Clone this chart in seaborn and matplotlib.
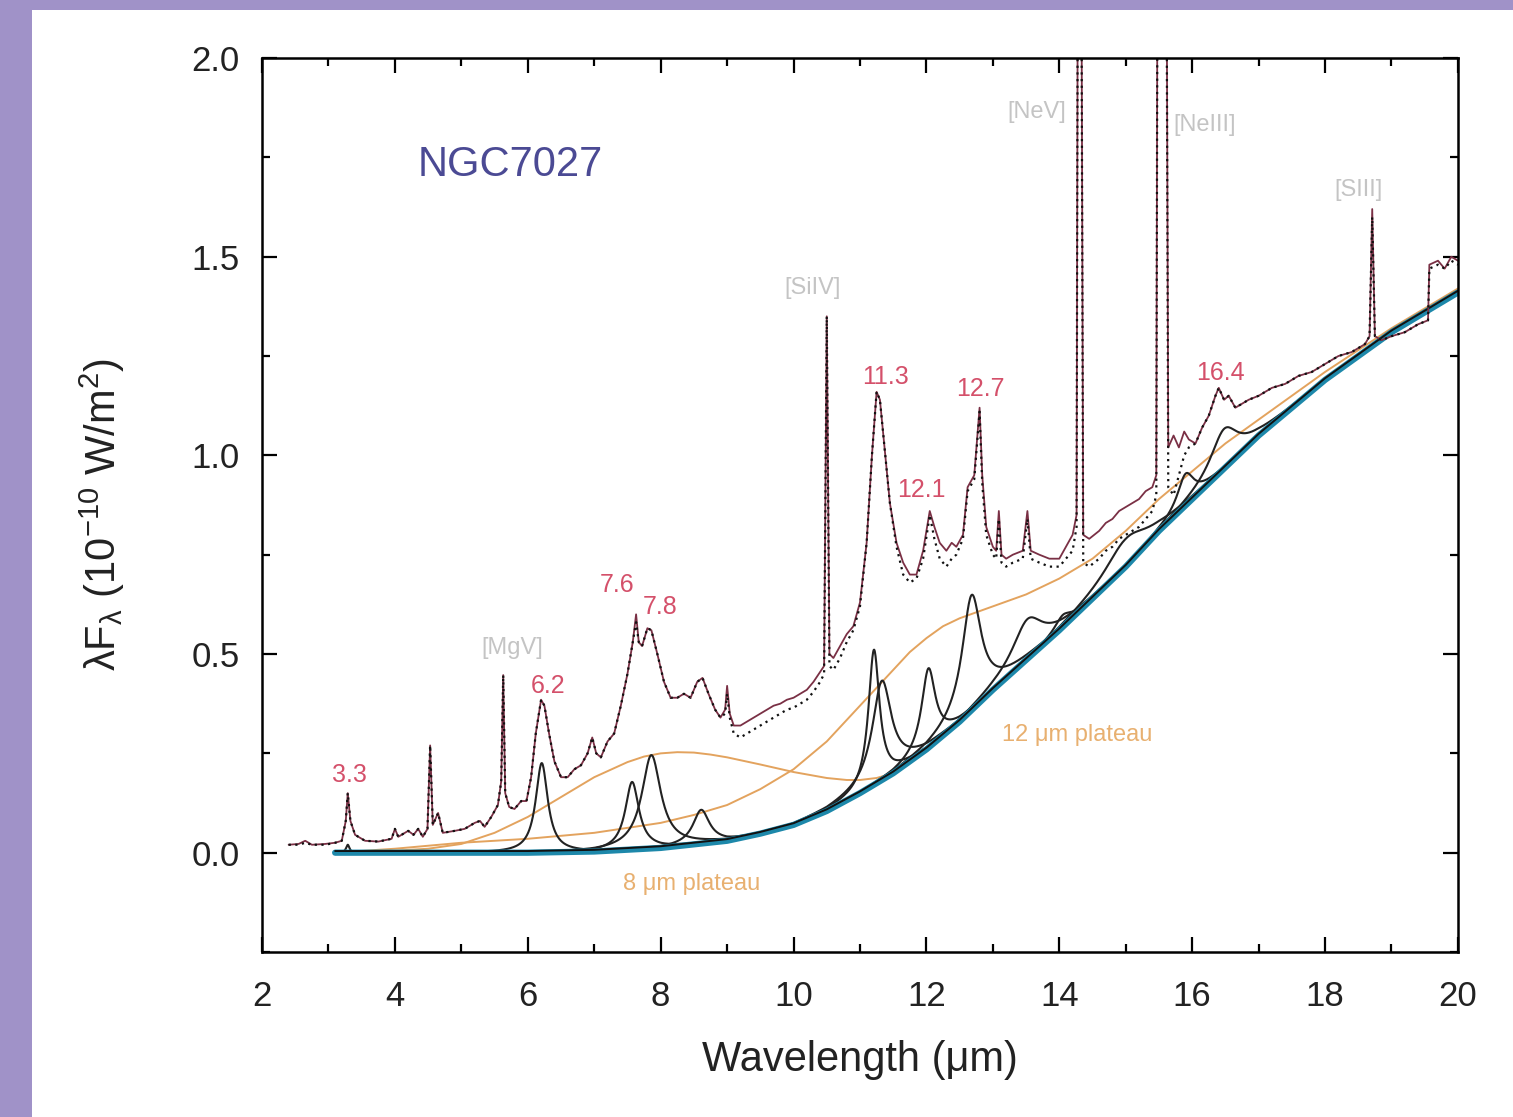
import numpy as np
import matplotlib
matplotlib.use("Agg")
import matplotlib.pyplot as plt
import matplotlib.transforms as mtransforms
from matplotlib.ticker import MultipleLocator
from matplotlib.patches import Rectangle
import seaborn as sns

wave = [2.40, 2.55, 2.65, 2.75, 2.95, 3.10, 3.20, 3.26, 3.29, 3.33, 3.40, 3.55, 3.75, 3.95,
        4.00, 4.05, 4.20, 4.28, 4.35, 4.42, 4.49, 4.53, 4.57, 4.65, 4.72, 4.90, 5.05, 5.20,
        5.28, 5.35, 5.45, 5.55, 5.60, 5.63, 5.66, 5.72, 5.80, 5.90, 5.98, 6.05, 6.12, 6.20,
        6.25, 6.32, 6.40, 6.50, 6.60, 6.70, 6.80, 6.90, 6.97, 7.03, 7.10, 7.20, 7.30, 7.40,
        7.50, 7.58, 7.63, 7.67, 7.72, 7.80, 7.86, 7.95, 8.05, 8.15, 8.25, 8.35, 8.45, 8.55,
        8.63, 8.72, 8.82, 8.90, 8.97, 9.00, 9.04, 9.10, 9.20, 9.30, 9.40, 9.50, 9.60, 9.70,
        9.80, 9.90, 10.00, 10.10, 10.20, 10.30, 10.40, 10.46, 10.50, 10.54, 10.60, 10.70,
        10.80, 10.90, 11.00, 11.10, 11.18, 11.25, 11.30, 11.38, 11.45, 11.55, 11.65, 11.75,
        11.85, 11.95, 12.05, 12.12, 12.20, 12.30, 12.38, 12.45, 12.55, 12.62, 12.72, 12.80,
        12.84, 12.90, 13.00, 13.05, 13.09, 13.13, 13.20, 13.30, 13.45, 13.52, 13.57, 13.70,
        13.85, 14.00, 14.10, 14.20, 14.26, 14.30, 14.36, 14.45, 14.60, 14.70, 14.80, 14.90,
        15.00, 15.10, 15.20, 15.30, 15.40, 15.46, 15.50, 15.58, 15.64, 15.72, 15.80, 15.88,
        15.95, 16.05, 16.15, 16.25, 16.35, 16.40, 16.48, 16.55, 16.65, 16.75, 16.85, 17.00,
        17.20, 17.40, 17.60, 17.80, 18.00, 18.20, 18.40, 18.60, 18.67, 18.71, 18.75, 18.85,
        19.00, 19.20, 19.40, 19.55, 19.57, 19.70, 19.80, 19.90, 20.00]
flux_obs = [0.020, 0.022, 0.030, 0.020, 0.022, 0.025, 0.030, 0.080, 0.150, 0.080, 0.045, 0.030, 0.028, 0.035,
            0.060, 0.040, 0.055, 0.045, 0.060, 0.040, 0.060, 0.270, 0.070, 0.100, 0.050, 0.055, 0.060, 0.075,
            0.080, 0.065, 0.090, 0.120, 0.180, 0.447, 0.150, 0.115, 0.110, 0.130, 0.130, 0.190, 0.300, 0.385,
            0.370, 0.300, 0.230, 0.190, 0.190, 0.210, 0.220, 0.250, 0.290, 0.250, 0.240, 0.280, 0.300, 0.370,
            0.450, 0.530, 0.600, 0.530, 0.520, 0.565, 0.560, 0.500, 0.430, 0.390, 0.390, 0.400, 0.390, 0.430,
            0.440, 0.400, 0.360, 0.340, 0.360, 0.420, 0.350, 0.320, 0.320, 0.330, 0.340, 0.350, 0.360, 0.370,
            0.375, 0.385, 0.390, 0.400, 0.410, 0.430, 0.455, 0.470, 1.350, 0.500, 0.490, 0.520,
            0.550, 0.570, 0.630, 0.780, 1.000, 1.160, 1.140, 1.000, 0.880, 0.780, 0.730, 0.700,
            0.700, 0.760, 0.860, 0.820, 0.780, 0.760, 0.780, 0.770, 0.800, 0.920, 0.950, 1.120,
            0.950, 0.820, 0.770, 0.760, 0.860, 0.750, 0.740, 0.750, 0.760, 0.860, 0.760, 0.750,
            0.740, 0.740, 0.770, 0.800, 0.850, 4.000, 0.800, 0.790, 0.810, 0.830, 0.840, 0.860,
            0.870, 0.880, 0.890, 0.910, 0.920, 0.950, 4.000, 4.000, 1.020, 1.050, 1.020, 1.060,
            1.040, 1.030, 1.070, 1.100, 1.150, 1.170, 1.140, 1.150, 1.120, 1.130, 1.140, 1.150,
            1.170, 1.180, 1.200, 1.210, 1.230, 1.250, 1.260, 1.280, 1.300, 1.620, 1.300, 1.290,
            1.300, 1.310, 1.330, 1.340, 1.480, 1.490, 1.470, 1.500, 1.490]
flux_fit = [0.020, 0.020, 0.025, 0.020, 0.020, 0.025, 0.030, 0.080, 0.150, 0.080, 0.045, 0.030, 0.028, 0.035,
            0.060, 0.040, 0.055, 0.045, 0.060, 0.040, 0.060, 0.270, 0.070, 0.100, 0.050, 0.055, 0.060, 0.075,
            0.080, 0.065, 0.090, 0.120, 0.180, 0.447, 0.150, 0.115, 0.110, 0.130, 0.130, 0.190, 0.300, 0.385,
            0.370, 0.300, 0.230, 0.190, 0.190, 0.210, 0.220, 0.250, 0.290, 0.250, 0.240, 0.280, 0.300, 0.370,
            0.450, 0.530, 0.580, 0.530, 0.520, 0.565, 0.560, 0.500, 0.430, 0.390, 0.390, 0.400, 0.390, 0.430,
            0.440, 0.400, 0.360, 0.340, 0.350, 0.400, 0.340, 0.300, 0.290, 0.300, 0.310, 0.320, 0.330, 0.340,
            0.350, 0.360, 0.365, 0.375, 0.385, 0.405, 0.430, 0.450, 1.350, 0.470, 0.460, 0.490,
            0.530, 0.560, 0.620, 0.780, 1.000, 1.160, 1.140, 1.000, 0.880, 0.770, 0.700, 0.680,
            0.690, 0.740, 0.850, 0.790, 0.740, 0.720, 0.740, 0.750, 0.790, 0.910, 0.940, 1.110,
            0.930, 0.800, 0.750, 0.740, 0.840, 0.730, 0.720, 0.730, 0.740, 0.840, 0.740, 0.730,
            0.720, 0.720, 0.740, 0.760, 0.820, 4.000, 0.730, 0.720, 0.740, 0.760, 0.770, 0.790,
            0.800, 0.810, 0.820, 0.840, 0.860, 0.900, 4.000, 4.000, 0.920, 0.900, 0.950, 1.000,
            1.020, 1.030, 1.070, 1.100, 1.150, 1.170, 1.140, 1.150, 1.120, 1.130, 1.140, 1.150,
            1.170, 1.180, 1.200, 1.210, 1.230, 1.250, 1.260, 1.280, 1.300, 1.600, 1.300, 1.290,
            1.300, 1.310, 1.330, 1.340, 1.470, 1.480, 1.470, 1.490, 1.480]

# underlying continuum
cont_x = [3.1, 4.0, 5.0, 6.0, 7.0, 8.0, 9.0, 9.5, 10.0, 10.5, 11.0, 11.5, 12.0, 12.5, 13.0, 13.5,
          14.0, 14.5, 15.0, 15.5, 16.0, 16.5, 17.0, 17.5, 18.0, 18.5, 19.0, 19.5, 20.0]
cont_y = [0.0, 0.0, 0.0, 0.0, 0.003, 0.012, 0.03, 0.048, 0.07, 0.105, 0.15, 0.2, 0.26, 0.33, 0.41,
          0.485, 0.56, 0.64, 0.72, 0.81, 0.89, 0.97, 1.05, 1.12, 1.19, 1.25, 1.31, 1.36, 1.41]

# plateau components (continuum included)
p8_x = [3.1, 4.0, 4.5, 5.0, 5.5, 6.0, 6.5, 7.0, 7.5, 7.75, 8.0, 8.25, 8.5, 8.75, 9.0, 9.5, 10.0,
        10.5, 10.8, 11.0, 11.25, 11.5, 11.75, 12.0, 12.5]
p8_y = [0.0, 0.005, 0.01, 0.022, 0.05, 0.09, 0.14, 0.19, 0.228, 0.242, 0.25, 0.253, 0.252, 0.247,
        0.24, 0.222, 0.203, 0.188, 0.183, 0.183, 0.188, 0.2, 0.225, 0.262, 0.33]
p12_x = [3.1, 4.0, 5.0, 6.0, 7.0, 8.0, 8.5, 9.0, 9.5, 10.0, 10.5, 11.0, 11.5, 11.75, 12.0, 12.25,
         12.5, 13.0, 13.5, 14.0, 14.5, 15.0, 15.5, 16.0, 16.5, 17.0, 18.0, 19.0, 20.0]
p12_y = [0.0, 0.01, 0.025, 0.035, 0.05, 0.075, 0.095, 0.12, 0.16, 0.21, 0.28, 0.37, 0.46, 0.505,
         0.54, 0.57, 0.59, 0.62, 0.65, 0.69, 0.74, 0.81, 0.89, 0.96, 1.03, 1.09, 1.21, 1.32, 1.42]

# PAH band components: centre (um), height above continuum, FWHM (um)
band_center = [3.29, 6.21, 7.57, 7.86, 8.61, 11.21, 11.33, 12.03, 12.68, 13.52, 14.05, 15.00, 15.90, 16.48]
band_height = [0.02, 0.225, 0.17, 0.235, 0.085, 0.34, 0.25, 0.20, 0.29, 0.10, 0.03, 0.07, 0.08, 0.10]
band_fwhm = [0.06, 0.22, 0.25, 0.35, 0.30, 0.20, 0.35, 0.25, 0.35, 0.55, 0.30, 0.75, 0.30, 0.50]

pah_labels = ["3.3", "6.2", "7.6", "7.8", "11.3", "12.1", "12.7", "16.4"]
pah_label_x = [3.32, 6.30, 7.34, 7.99, 11.38, 11.93, 12.81, 16.42]
pah_label_y = [0.196, 0.42, 0.673, 0.618, 1.198, 0.912, 1.168, 1.208]

ion_labels = ["[MgV]", "[SiIV]", "[NeV]", "[NeIII]", "[SIII]"]
ion_label_x = [5.76, 10.28, 13.66, 16.19, 18.50]
ion_label_y = [0.515, 1.422, 1.864, 1.832, 1.668]

sns.set_theme(style="ticks")
plt.rcParams["font.family"] = ["Liberation Sans", "DejaVu Sans"]
plt.rcParams["mathtext.default"] = "regular"

fig = plt.figure(figsize=(15.13, 11.17), dpi=100, facecolor="#a092c8")
fig.patches.append(Rectangle((32 / 1513, 0), 1, 1 - 10 / 1117, transform=fig.transFigure,
                             facecolor="white", edgecolor="none", zorder=-10))
ax = fig.add_axes([0.1732, 0.1477, 0.7904, 0.8003])
ax.set_facecolor("white")

orange = "#e3a35e"
sns.lineplot(x=p8_x, y=p8_y, ax=ax, color=orange, lw=1.4, sort=False, estimator=None)
sns.lineplot(x=p12_x, y=p12_y, ax=ax, color=orange, lw=1.4, sort=False, estimator=None)

# bands drawn on top of the continuum
for c, h, w in zip(band_center, band_height, band_fwhm):
    xg = np.linspace(max(c - 4 * w, 3.1), min(c + 4 * w, 20), 300)
    yg = np.interp(xg, cont_x, cont_y) + h / (1 + ((xg - c) / (w / 2)) ** 2)
    sns.lineplot(x=xg, y=yg, ax=ax, color="#222222", lw=1.5, sort=False, estimator=None)

sns.lineplot(x=cont_x, y=cont_y, ax=ax, color="#1d88aa", lw=4.5, sort=False, estimator=None)
up = mtransforms.offset_copy(ax.transData, fig=fig, y=1.2, units="points")
ax.plot(cont_x, cont_y, color="#111111", lw=1.4, transform=up)

sns.lineplot(x=wave, y=flux_obs, ax=ax, color="#7a3045", lw=1.3, sort=False, estimator=None)
sns.lineplot(x=wave, y=flux_fit, ax=ax, color="#111111", lw=1.6, ls=(0, (1, 2)),
             sort=False, estimator=None)

ax.set_xlim(2, 20)
ax.set_ylim(-0.25, 2.0)
ax.set_xticks(np.arange(2, 21, 2))
ax.set_yticks([0.0, 0.5, 1.0, 1.5, 2.0])
ax.xaxis.set_minor_locator(MultipleLocator(1))
ax.yaxis.set_minor_locator(MultipleLocator(0.25))
ax.yaxis.set_major_formatter(matplotlib.ticker.FormatStrFormatter("%.1f"))
ax.tick_params(which="both", direction="in", top=True, right=True, width=1.6, colors="black",
               labelcolor="#222222")
ax.tick_params(which="major", length=11, labelsize=25, pad=16)
ax.tick_params(which="minor", length=6)
ax.tick_params(axis="x", which="major", pad=20)
for s in ax.spines.values():
    s.set_linewidth(1.8)
    s.set_color("black")

ax.set_xlabel("Wavelength (μm)", fontsize=30, color="#222222")
ax.set_ylabel("λF$_{λ}$ (10$^{-10}$ W/m$^{2}$)", fontsize=30, color="#222222")
ax.xaxis.set_label_coords(0.5, -0.098)
ax.yaxis.set_label_coords(-0.113, 0.49)

ax.text(5.73, 1.73, "NGC7027", color="#4b4a94", fontsize=30, ha="center", va="center")
for t, x, y in zip(pah_labels, pah_label_x, pah_label_y):
    ax.text(x, y, t, color="#d4506a", fontsize=18, ha="center", va="center")
for t, x, y in zip(ion_labels, ion_label_x, ion_label_y):
    ax.text(x, y, t, color="#c4c4c4", fontsize=17, ha="center", va="center")
ax.text(8.47, -0.08, "8 μm plateau", color="#e8b070", fontsize=17, ha="center", va="center")
ax.text(14.27, 0.296, "12 μm plateau", color="#e8b070", fontsize=17, ha="center", va="center")

fig.savefig("out.png", dpi=100, facecolor=fig.get_facecolor())
